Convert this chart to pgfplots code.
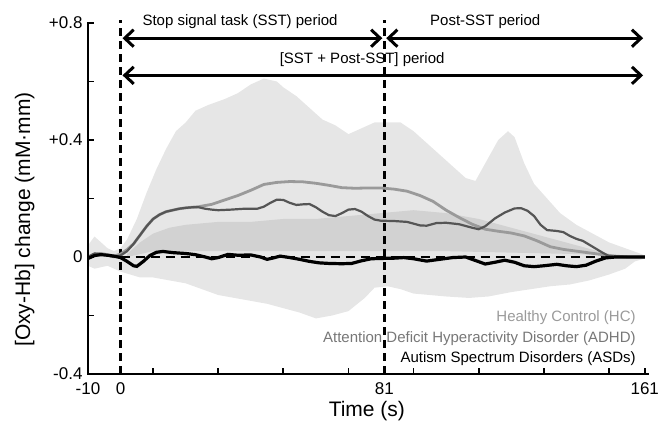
\documentclass[border=0pt]{standalone}
\usepackage{fontspec}
\setmainfont{Liberation Sans}
\usepackage{pgfplots}
\pgfplotsset{compat=1.18}
\usepackage{pgfplotstable}
\usetikzlibrary{arrows.meta}

\definecolor{hcline}{HTML}{9A9A9A}
\definecolor{adline}{HTML}{555555}
\definecolor{bandout}{HTML}{E6E6E6}
\definecolor{bandin}{HTML}{D2D2D2}

% group means
\pgfplotstableread{
t v
-10 0.000
-8 0.010
-6 0.012
-4 0.008
-2 0.003
0 0.010
2 0.025
4 0.045
6 0.075
8 0.105
10 0.130
12 0.145
14 0.155
16 0.160
18 0.165
20 0.168
24 0.172
28 0.180
32 0.195
36 0.210
40 0.228
44 0.248
48 0.255
52 0.258
56 0.257
60 0.252
64 0.245
68 0.237
72 0.235
76 0.236
80 0.236
84 0.232
88 0.225
92 0.210
96 0.190
100 0.160
104 0.135
108 0.112
112 0.095
116 0.088
120 0.082
124 0.072
128 0.055
132 0.035
136 0.026
140 0.020
144 0.014
148 0.008
152 0.003
156 0.000
161 0.000
}\hcmean

\pgfplotstableread{
t v
-10 0.000
-8 0.012
-6 0.010
-4 0.005
-2 0.000
0 0.005
2 0.020
4 0.045
6 0.075
8 0.105
10 0.130
12 0.145
14 0.155
16 0.160
18 0.165
20 0.168
22 0.170
24 0.170
26 0.165
28 0.162
30 0.160
34 0.162
38 0.165
42 0.165
44 0.172
46 0.185
48 0.196
50 0.195
52 0.185
54 0.178
56 0.180
58 0.181
60 0.170
62 0.155
64 0.143
66 0.140
68 0.150
70 0.162
72 0.164
74 0.155
76 0.140
78 0.128
80 0.124
84 0.123
88 0.120
92 0.108
94 0.107
97 0.116
100 0.117
104 0.112
108 0.100
110 0.095
112 0.105
115 0.132
118 0.152
121 0.166
123 0.167
125 0.158
127 0.140
129 0.110
131 0.092
134 0.089
136 0.085
138 0.072
140 0.062
142 0.055
145 0.035
148 0.015
150 0.003
152 0.000
161 0.000
}\admean

\pgfplotstableread{
t v
-10 -0.005
-8 0.005
-6 0.008
-4 0.006
-2 0.003
0 -0.002
2 -0.015
4 -0.030
5 -0.032
7 -0.015
9 0.005
11 0.016
13 0.019
16 0.015
20 0.012
23 0.008
26 0.000
28 -0.006
30 -0.002
33 0.009
36 0.006
40 0.007
43 0.000
45 -0.008
47 -0.003
49 0.003
52 -0.002
55 -0.008
58 -0.015
61 -0.020
64 -0.022
68 -0.023
71 -0.022
74 -0.013
77 -0.006
80 -0.005
84 -0.004
87 -0.002
90 -0.006
94 -0.014
98 -0.008
102 -0.002
106 0.000
109 -0.012
112 -0.024
115 -0.018
118 -0.011
121 -0.018
124 -0.030
127 -0.033
130 -0.030
134 -0.025
137 -0.030
140 -0.033
143 -0.028
146 -0.014
149 -0.003
152 0.000
161 0.000
}\asdmean

% spread of the groups: outline, upper edge left to right, lower edge back
\pgfplotstableread{
t v
-10 0.04
-8 0.07
-6 0.05
-4 0.03
-2 0.02
0 0.03
2 0.06
5 0.13
8 0.22
11 0.30
14 0.37
17 0.43
20 0.46
23 0.50
27 0.52
32 0.54
36 0.56
40 0.59
44 0.61
48 0.60
50 0.58
54 0.55
58 0.51
62 0.47
66 0.45
70 0.42
74 0.44
78 0.46
82 0.46
86 0.46
90 0.43
94 0.39
98 0.35
102 0.31
106 0.27
109 0.26
112 0.32
116 0.40
119 0.43
121 0.41
124 0.32
127 0.25
131 0.20
135 0.15
140 0.11
145 0.08
150 0.05
155 0.03
160 0.01
161 0.005
161 -0.005
158 -0.015
155 -0.04
150 -0.06
144 -0.08
138 -0.094
132 -0.10
126 -0.11
120 -0.12
113 -0.135
107 -0.14
100 -0.135
95 -0.13
90 -0.125
86 -0.11
82 -0.10
78 -0.105
75 -0.14
70 -0.185
65 -0.20
60 -0.21
55 -0.19
50 -0.175
45 -0.16
40 -0.15
35 -0.14
30 -0.13
25 -0.11
20 -0.09
15 -0.08
10 -0.07
6 -0.07
3 -0.06
0 -0.05
-2 -0.04
-4 -0.03
-6 -0.035
-8 -0.04
-10 -0.03
}\envelope

% denser overlap region
\pgfplotstableread{
t v
2 0.01
6 0.05
10 0.08
15 0.10
20 0.11
30 0.12
40 0.12
50 0.13
60 0.13
70 0.14
80 0.15
90 0.16
100 0.15
110 0.13
120 0.10
130 0.07
140 0.04
150 0.01
150 0.005
140 0.01
120 0.015
100 0.02
80 0.02
60 0.02
40 0.02
20 0.02
10 0.02
6 0.01
2 0.00
}\core

\begin{document}
\begin{tikzpicture}
\begin{axis}[
    scale only axis,
    width=560pt, height=351pt,
    xmin=-10, xmax=162,
    ymin=-0.4, ymax=0.8,
    axis lines=left,
    axis line style={-, line width=2.6pt, black},
    clip=false,
    tick align=inside,
    major tick length=6pt,
    tick style={black, line width=1.8pt},
    xtick={-10,0,10,30,50,70,81,90,110,130,150,161},
    xticklabels={-10,0,,,,,81,,,,,161},
    ytick={-0.4,-0.2,0,0.2,0.4,0.6,0.8},
    yticklabels={-0.4,,0,,+0.4,,+0.8},
    ticklabel style={font=\fontsize{17}{20}\selectfont},
    xticklabel style={yshift=-5pt},
    yticklabel style={xshift=-2pt},
    xlabel={Time (s)},
    ylabel={[Oxy-Hb] change (mM·mm)},
    every axis x label/.style={at={(axis description cs:0.498,-0.105)}, anchor=center,
        font=\fontsize{21}{24}\selectfont},
    every axis y label/.style={at={(axis description cs:-0.113,0.44)}, rotate=90, anchor=center,
        font=\fontsize{21}{24}\selectfont},
]
% spread bands
\addplot[fill=bandout, draw=none] table {\envelope} -- cycle;
\addplot[fill=bandin, draw=none] table {\core} -- cycle;

% reference lines
\addplot[black, line width=2.6pt, dash pattern=on 9pt off 6pt] coordinates {(0,0) (161,0)};
\addplot[black, line width=2.6pt, dash pattern=on 8pt off 5pt] coordinates {(0,-0.4) (0,0.81)};
\addplot[black, line width=2.6pt, dash pattern=on 8pt off 5pt] coordinates {(81,-0.4) (81,0.81)};

% means
\addplot[hcline, line width=2.8pt] table {\hcmean};
\addplot[adline, line width=2.2pt] table {\admean};
\addplot[black, line width=3.2pt] table {\asdmean};

% axis frame and inward ticks, drawn again so that they show at this weight
\draw[line width=2.6pt, line cap=rect] (axis cs:-10,0.8) -- (axis cs:-10,-0.4) -- (axis cs:162,-0.4);
\pgfplotsinvokeforeach{10,30,50,70,90,110,130,150}{
  \draw[line width=1.8pt] (axis cs:#1,-0.4) -- ++(0pt,6pt);
}
\pgfplotsinvokeforeach{-0.2,0,0.2,0.4,0.6,0.8}{
  \draw[line width=1.8pt] (axis cs:-10,#1) -- ++(6pt,0pt);
}

% period arrows
\draw[line width=3pt, {Straight Barb[length=9pt,width=17pt]}-{Straight Barb[length=9pt,width=17pt]}]
    (axis cs:0.6,0.748) -- (axis cs:80.4,0.748);
\draw[line width=3pt, {Straight Barb[length=9pt,width=17pt]}-{Straight Barb[length=9pt,width=17pt]}]
    (axis cs:81.6,0.748) -- (axis cs:160.5,0.748);
\draw[line width=3pt, {Straight Barb[length=9pt,width=17pt]}-{Straight Barb[length=9pt,width=17pt]}]
    (axis cs:0.6,0.621) -- (axis cs:160.5,0.621);
\node[font=\fontsize{15}{18}\selectfont] at (axis cs:36.7,0.804) {Stop signal task (SST) period};
\node[font=\fontsize{15}{18}\selectfont] at (axis cs:112,0.804) {Post-SST period};
\node[font=\fontsize{15}{18}\selectfont] at (axis cs:74.2,0.674) {[SST + Post-SST] period};

% group labels
\node[anchor=east, text=hcline, font=\fontsize{15}{18}\selectfont] at (axis cs:159.3,-0.206) {Healthy Control (HC)};
\node[anchor=east, text=adline!80, font=\fontsize{15}{18}\selectfont] at (axis cs:159.3,-0.278) {Attention Deficit Hyperactivity Disorder (ADHD)};
\node[anchor=east, text=black, font=\fontsize{15}{18}\selectfont] at (axis cs:159.3,-0.347) {Autism Spectrum Disorders (ASDs)};
\end{axis}
\pgfresetboundingbox
\path (current axis.south west) ++(-88pt,-56pt) rectangle ++(666pt,430pt);
\end{tikzpicture}
\end{document}
